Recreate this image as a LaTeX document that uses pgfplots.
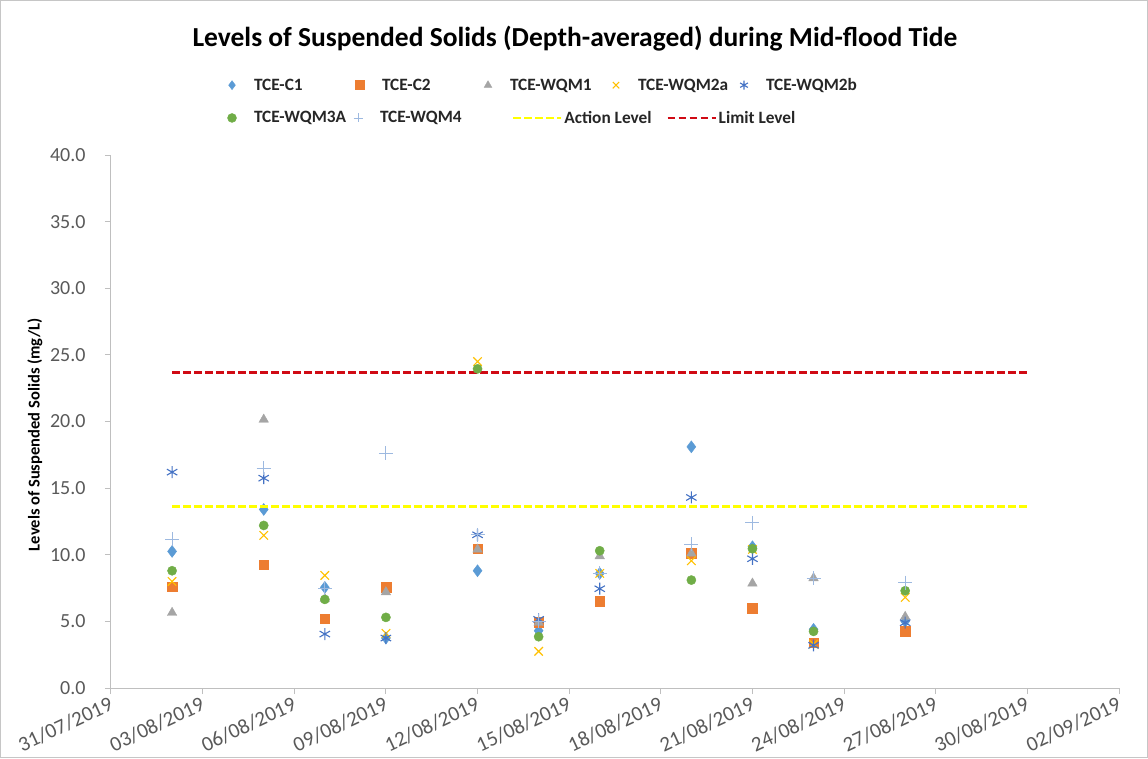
\documentclass[border=0pt]{standalone}
\usepackage{pgfplots}
\pgfplotsset{compat=1.18}
\usepackage{fontspec}
\setmainfont{Carlito}
\definecolor{cC1}{HTML}{5B9BD5}
\definecolor{cC2}{HTML}{ED7D31}
\definecolor{cW1}{HTML}{A5A5A5}
\definecolor{cW2a}{HTML}{FFC000}
\definecolor{cW2b}{HTML}{4472C4}
\definecolor{cW3}{HTML}{70AD47}
\definecolor{cW4}{HTML}{9DB9E0}
\definecolor{cAct}{HTML}{FFFF00}
\definecolor{cLim}{HTML}{D00A14}
\definecolor{axgray}{HTML}{BFBFBF}
\definecolor{tickgray}{HTML}{595959}
\pgfplotsset{
  base/.style={scale only axis, width=1008pt, height=533pt,
    xmin=0, xmax=33, ymin=0, ymax=40,
    at={(111pt,-688pt)}, anchor=south west},
  markleg/.style={legend image code/.code={\path[draw=none] (-6pt,0pt) -- (22pt,0pt); \draw[##1, mark size=4.5pt] plot coordinates {(0pt,0pt)};}},
  lineleg/.style={legend image code/.code={\draw[##1] (0pt,0pt) -- (48pt,0pt); \path[draw=none] (51pt,0pt);}},
  legbase/.style={legend style={draw=none, fill=none, inner sep=0pt, outer sep=0pt,
    font=\bfseries\fontsize{17.3}{20}\selectfont, text=black!85,
    nodes={inner sep=0pt, anchor=west},
    /tikz/every odd column/.append style={column sep=0pt},
    /tikz/every even column/.append style={column sep=0pt}}, legend cell align=left},
}
\begin{document}
\begin{tikzpicture}
\useasboundingbox (0,0) rectangle (1148pt,-758pt);
\draw[gray!45, line width=1pt] (0.5pt,-0.5pt) rectangle (1147.5pt,-757.5pt);
\begin{axis}[base, legbase,
  axis x line*=bottom, axis y line*=left,
  axis line style={-, axgray, line width=1pt},
  tick align=outside, major tick length=6pt,
  tick style={axgray, line width=1pt},
  xtick={0,3,...,33},
  xticklabels={31/07/2019,03/08/2019,06/08/2019,09/08/2019,12/08/2019,15/08/2019,18/08/2019,21/08/2019,24/08/2019,27/08/2019,30/08/2019,02/09/2019},
  xticklabel style={rotate=25, anchor=north east, font=\fontsize{21}{24}\selectfont, text=tickgray, yshift=3pt},
  ytick={0,5,...,40},
  yticklabels={0.0,5.0,10.0,15.0,20.0,25.0,30.0,35.0,40.0},
  yticklabel style={font=\fontsize{20}{23}\selectfont, text=tickgray, xshift=-16pt},
  ylabel={Levels of Suspended Solids (mg/L)},
  ylabel style={at={(axis description cs:-0.0754,0.475)}, anchor=center, font=\bfseries\fontsize{16.5}{19}\selectfont},
  title={Levels of Suspended Solids (Depth-averaged) during Mid-flood Tide},
  title style={at={(axis description cs:0.4603,1.208)}, anchor=center, font=\bfseries\fontsize{27.5}{32}\selectfont},
  legend columns=5,
  legend style={at={(axis description cs:0.1141,1.131)}, anchor=west},
]
\addplot[markleg, only marks, mark=diamond*, mark size=6pt, color=cC1] coordinates {
(2,10.25) (5,13.4) (7,7.55) (9,3.75) (12,8.8) (14,4.3) (16,8.6) (19,18.1) (21,10.6) (23,4.4) (26,5.0)};
\addlegendentry{\makebox[100pt][l]{TCE-C1}}
\addplot[markleg, only marks, mark=square*, mark size=4.8pt, color=cC2] coordinates {
(2,7.6) (5,9.25) (7,5.2) (9,7.55) (12,10.45) (14,4.95) (16,6.5) (19,10.1) (21,6.0) (23,3.4) (26,4.25)};
\addlegendentry{\makebox[100pt][l]{TCE-C2}}
\addplot[markleg, only marks, mark=triangle*, mark size=5.5pt, color=cW1] coordinates {
(2,5.65) (5,20.15) (7,6.7) (9,7.2) (12,10.4) (14,4.9) (16,9.9) (19,10.1) (21,7.85) (23,8.25) (26,5.35)};
\addlegendentry{\makebox[100pt][l]{TCE-WQM1}}
\addplot[markleg, only marks, mark=x, mark size=6pt, line width=1.1pt, color=cW2a] coordinates {
(2,8.0) (5,11.45) (7,8.45) (9,4.1) (12,24.5) (14,2.75) (16,8.6) (19,9.55) (21,10.4) (23,3.3) (26,6.8)};
\addlegendentry{\makebox[100pt][l]{TCE-WQM2a}}
\addplot[markleg, only marks, mark=asterisk, mark size=6pt, line width=1.1pt, color=cW2b] coordinates {
(2,16.2) (5,15.75) (7,4.05) (9,3.75) (12,11.5) (14,5.15) (16,7.45) (19,14.3) (21,9.7) (23,3.2) (26,4.9)};
\addlegendentry{TCE-WQM2b}
\end{axis}
\begin{axis}[base, legbase, hide axis,
  legend columns=4,
  legend style={at={(axis description cs:0.1141,1.0695)}, anchor=west},
]
\addplot[markleg, only marks, mark=*, mark size=4.6pt, color=cW3] coordinates {
(2,8.8) (5,12.2) (7,6.65) (9,5.3) (12,23.95) (14,3.85) (16,10.3) (19,8.1) (21,10.45) (23,4.25) (26,7.3)};
\addlegendentry{\makebox[98pt][l]{TCE-WQM3A}}
\addplot[markleg, only marks, mark=+, mark size=7pt, line width=0.9pt, color=cW4] coordinates {
(2,11.15) (5,16.5) (7,7.5) (9,17.6) (12,11.5) (14,5.0) (16,8.6) (19,10.8) (21,12.4) (23,8.25) (26,7.9)};
\addlegendentry{\makebox[132pt][l]{TCE-WQM4}}
\addplot[lineleg, no marks, cAct, line width=2.7pt, dash pattern=on 7.5pt off 3.5pt] coordinates {(2,13.6) (30,13.6)};
\addlegendentry{\makebox[102pt][l]{Action Level}}
\addplot[lineleg, no marks, cLim, line width=2.7pt, dash pattern=on 7.5pt off 3.5pt] coordinates {(2,23.7) (30,23.7)};
\addlegendentry{Limit Level}
\end{axis}
\end{tikzpicture}
\end{document}
